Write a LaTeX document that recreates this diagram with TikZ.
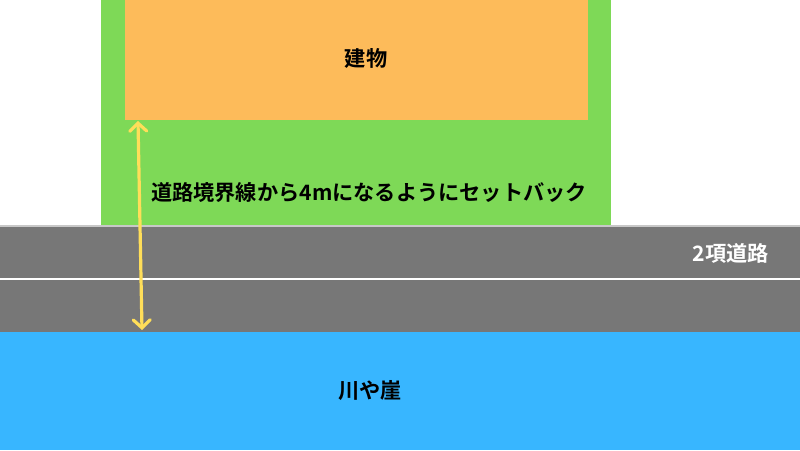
\documentclass[tikz,border=0pt]{standalone}
\usepackage{fontspec}
\setmainfont{Noto Sans CJK JP}[BoldFont={* Bold}]
\usetikzlibrary{arrows.meta}
\definecolor{grn}{HTML}{7ED957}
\definecolor{org}{HTML}{FDBB5A}
\definecolor{road}{HTML}{777777}
\definecolor{roadedge}{HTML}{C8C8C8}
\definecolor{sea}{HTML}{38B6FF}
\definecolor{yel}{HTML}{FFDE59}
\tikzset{
  lbl/.style={font=\fontsize{21.2}{25}\selectfont\bfseries, inner sep=0pt},
  dim/.style={yel, line width=3.2pt, line cap=round, {Straight Barb[length=8pt,width=17pt,line cap=round]}-{Straight Barb[length=8pt,width=17pt,line cap=round]}}
}
\begin{document}
\begin{tikzpicture}[x=1pt,y=-1pt]
\useasboundingbox (0,0) rectangle (800,450);
\fill[white] (0,0) rectangle (800,450);
\fill[grn] (101,0) rectangle (611,225.5);
\fill[org] (125,0) rectangle (588,120);
\fill[road] (0,225.5) rectangle (800,331.5);
\draw[roadedge, line width=1.2pt] (0,226) -- (800,226);
\draw[white, line width=1.5pt] (0,279) -- (800,279);
\fill[sea] (0,331.5) rectangle (800,450);
\coordinate (top) at (138,121);
\coordinate (bot) at (142,330);
\draw[dim] (top) -- (bot);
\node[lbl] (bld) at (366,58) {建物};
\node[lbl] (sb) at (369,192) {道路境界線から4mになるようにセットバック};
\node[lbl, text=white] (rd) at (731,253) {2項道路};
\node[lbl] (rv) at (370,391) {川や崖};
\end{tikzpicture}
\end{document}
